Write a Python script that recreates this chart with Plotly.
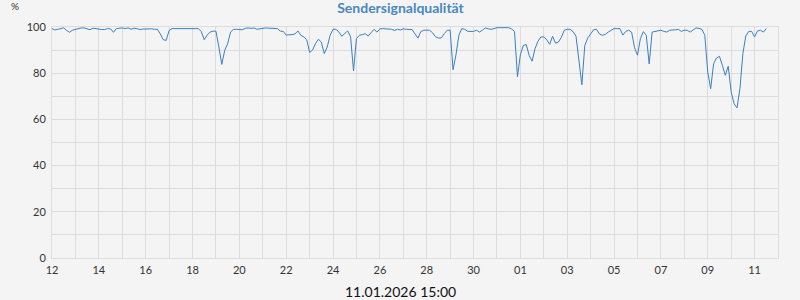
import pandas as pd
import plotly.graph_objects as go

title_text = "Sendersignalqualität"
unit_label = "%"
footer_text = "11.01.2026 15:00"

start_time = "2025-12-12 00:00"
step = "3h"

# signal quality (%) every 3 hours, one row per day
quality = [
    99.3, 98.7, 99.0, 99.3, 99.6, 98.5, 97.7, 98.6,   # 12.12
    99.0, 99.2, 99.6, 99.6, 99.1, 98.8, 99.5, 99.2,   # 13.12
    99.0, 98.9, 98.9, 99.3, 99.2, 97.7, 99.3, 99.4,   # 14.12
    99.6, 99.3, 99.6, 99.0, 99.5, 99.3, 98.9, 99.1,   # 15.12
    99.2, 99.2, 99.2, 99.0, 99.0, 97.0, 94.5, 94.2,   # 16.12
    98.5, 99.3, 99.3, 99.3, 99.5, 99.3, 99.5, 99.5,   # 17.12
    99.3, 99.2, 99.3, 98.0, 94.5, 96.5, 97.8, 98.2,   # 18.12
    98.2, 91.3, 83.8, 89.9, 92.8, 97.8, 99.0, 99.0,   # 19.12
    99.0, 98.8, 99.4, 99.6, 99.4, 99.6, 99.0, 99.3,   # 20.12
    99.6, 99.6, 99.5, 99.5, 99.4, 99.3, 98.2, 98.1,   # 21.12
    96.5, 96.5, 96.7, 97.0, 98.3, 96.4, 95.7, 94.5,   # 22.12
    89.0, 90.0, 92.8, 94.7, 93.5, 88.5, 91.3, 96.4,   # 23.12
    99.0, 99.0, 97.8, 96.0, 97.1, 98.3, 95.7, 81.0,   # 24.12
    95.0, 96.4, 96.7, 97.1, 96.1, 97.8, 99.0, 97.8,   # 25.12
    99.2, 99.3, 99.3, 99.2, 99.0, 98.5, 99.0, 98.7,   # 26.12
    99.2, 99.0, 99.0, 98.9, 97.0, 95.2, 98.0, 98.6,   # 27.12
    98.6, 98.6, 97.5, 95.8, 95.2, 95.3, 97.1, 98.6,   # 28.12
    98.6, 81.5, 88.0, 96.5, 99.3, 99.0, 98.1, 98.1,   # 29.12
    98.1, 98.6, 97.8, 98.6, 99.6, 99.2, 99.0, 99.3,   # 30.12
    99.7, 99.7, 99.7, 99.7, 99.7, 99.2, 98.0, 78.5,   # 31.12
    88.0, 92.0, 92.4, 87.7, 85.2, 90.6, 93.8, 95.7,   # 01.01
    95.7, 94.5, 92.5, 96.0, 93.0, 93.5, 95.5, 98.6,   # 02.01
    99.0, 99.0, 98.0, 96.0, 86.0, 75.0, 92.0, 95.2,   # 03.01
    97.0, 98.8, 99.0, 97.0, 96.4, 96.8, 97.8, 98.6,   # 04.01
    99.3, 99.3, 99.3, 96.5, 98.1, 98.6, 97.8, 91.0,   # 05.01
    87.8, 95.0, 98.0, 96.4, 84.0, 97.8, 98.1, 98.1,   # 06.01
    98.6, 98.1, 97.8, 98.6, 98.6, 98.8, 99.0, 98.1,   # 07.01
    98.6, 98.6, 97.8, 98.8, 99.6, 99.4, 99.0, 96.4,   # 08.01
    80.5, 73.3, 84.1, 86.6, 87.3, 83.4, 79.1, 83.0,   # 09.01
    71.9, 66.8, 65.0, 73.3, 88.5, 96.1, 98.1, 98.1,   # 10.01
    95.7, 98.3, 98.6, 97.8, 99.3,                     # 11.01
]

times = pd.date_range(start=start_time, periods=len(quality), freq=step)

x_range = ["2025-12-12 00:00", "2026-01-12 00:00"]
y_range = [0, 100]

bg = "#f4f4f4"
grid = "#dcdcdc"
line_color = "#3a80c3"
title_color = "#4a87c0"
font_family = "Lato, 'Open Sans', sans-serif"

fig = go.Figure()
fig.add_trace(go.Scatter(
    x=times, y=quality, mode="lines",
    line=dict(color=line_color, width=1),
    hoverinfo="x+y", showlegend=False,
))

DAY = 86400000
fig.update_xaxes(
    type="date", range=x_range,
    tick0="2025-12-12", dtick=2 * DAY, tickformat="%d",
    showgrid=True, gridcolor=grid, gridwidth=1,
    minor=dict(dtick=DAY, tick0="2025-12-12", showgrid=True, gridcolor=grid, gridwidth=1),
    zeroline=False, showline=True, linecolor=grid, mirror=True,
    ticks="", ticklabelstandoff=2,
    tickfont=dict(family=font_family, size=11, color="#333333"),
)
fig.update_yaxes(
    range=y_range, dtick=20, tick0=0,
    showgrid=True, gridcolor=grid, gridwidth=1,
    minor=dict(dtick=10, showgrid=True, gridcolor=grid, gridwidth=1),
    zeroline=False, showline=True, linecolor=grid, mirror=True,
    ticks="", ticklabelstandoff=3,
    tickfont=dict(family=font_family, size=11, color="#333333"),
)

fig.update_layout(
    width=800, height=300,
    margin=dict(l=52, r=22, t=27, b=42),
    paper_bgcolor=bg, plot_bgcolor=bg,
    font=dict(family=font_family, color="#333333"),
    title=dict(text="<b>" + title_text + "</b>", x=400.5 / 800, xanchor="center",
               y=1 - 8.5 / 300, yanchor="middle", yref="container",
               font=dict(family=font_family, size=14, color=title_color)),
    annotations=[
        dict(text=unit_label, xref="paper", yref="paper", x=-52 / 726 + 14.5 / 726,
             y=1 + 21 / 231, xanchor="center", yanchor="middle", showarrow=False,
             font=dict(family=font_family, size=10, color="#333333")),
        dict(text=footer_text, xref="paper", yref="paper", x=(400 - 52) / 726,
             y=-(291.5 - 258) / 231, xanchor="center", yanchor="middle", showarrow=False,
             font=dict(family=font_family, size=14, color="#111111")),
    ],
)

fig.write_html("out.html")
